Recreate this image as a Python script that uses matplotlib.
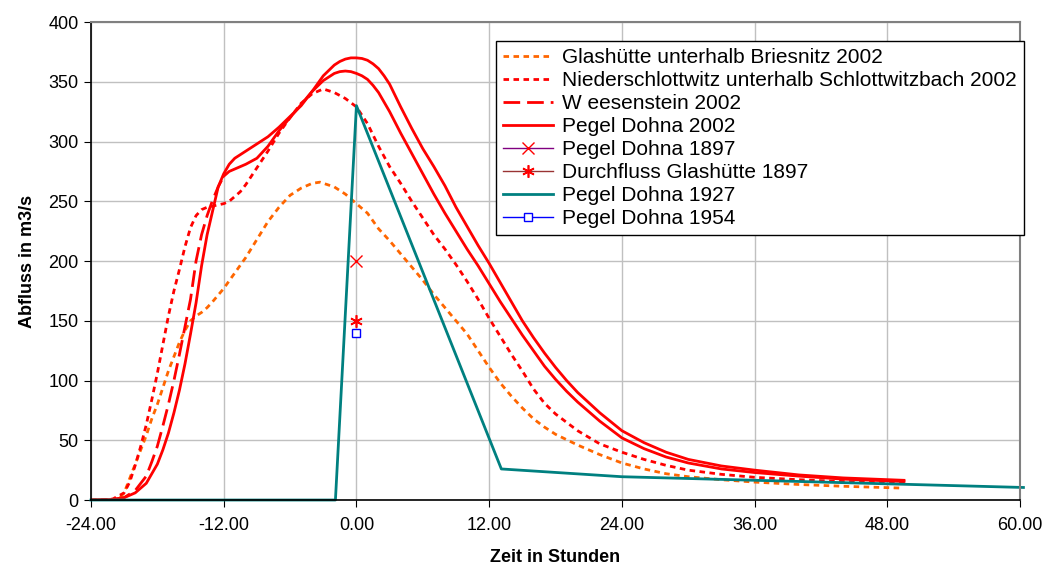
import matplotlib
matplotlib.use('Agg')
import matplotlib.pyplot as plt
from matplotlib.ticker import FormatStrFormatter

plt.rcParams['font.family'] = ['Liberation Sans', 'DejaVu Sans']

# Zeit in Stunden / Abfluss in m3/s

# Glashütte unterhalb Briesnitz 2002
t_glas = [-24, -22, -21.5, -21, -20.5, -20, -19.5, -19, -18.5, -18, -17.5, -17, -16.5, -16,
          -15.5, -15, -14.5, -14, -13.5, -13, -12, -11, -10, -9, -8, -7, -6, -5, -4, -3.3,
          -2, -1, 0, 1, 2, 3, 4, 5, 6, 7, 8, 9, 10, 11, 12, 13, 14, 15, 16, 17, 18, 20,
          22, 24, 26, 28, 30, 33, 36, 40, 44, 49.3]
q_glas = [0, 0, 1, 6, 18, 30, 42, 54, 68, 80, 94, 108, 120, 132,
          142, 150, 154, 157, 161, 166, 177, 190, 203, 218, 233, 245, 255, 261, 265, 266,
          262, 256, 248, 240, 227, 217, 206, 195, 184, 172, 161, 150, 139, 125, 111, 98, 87, 77, 68, 61, 55, 46,
          38, 31, 26, 22, 19.5, 17, 15, 13, 11.5, 10]

# Niederschlottwitz unterhalb Schlottwitzbach 2002
t_nied = [-24, -22.5, -22, -21, -20.5, -20, -19.5, -19, -18.5, -18, -17.5, -17, -16.5, -16,
          -15.5, -15, -14.5, -14, -13.5, -13, -12.5, -12, -11.5, -11, -10.5, -10, -9.5, -9,
          -8, -7, -6, -5, -4, -3, -2, -1, 0, 1, 2, 3, 4, 5, 6, 7, 8, 9, 10, 11, 12, 13, 14,
          15, 16, 17, 18, 19, 20, 22, 24, 26, 28, 30, 33, 36, 40, 44, 49.5]
q_nied = [0, 0, 1, 6, 15, 29, 45, 63, 84, 106, 130, 154, 175, 193,
          212, 228, 238, 243, 245, 246, 247, 248, 250, 254, 258, 264, 271, 278,
          292, 307, 320, 332, 340, 344, 341, 336, 329, 315, 296, 279, 265, 250, 236, 222, 210, 197, 183, 168, 152, 137, 122,
          108, 93, 81, 72, 65, 58, 47, 40, 34, 29, 25, 21.5, 19, 17, 15.5, 14.5]

# Weesenstein 2002 (Anstieg gestrichelt, Rest durchgezogen)
t_wees_rise = [-24, -22, -21, -20, -19, -18.5, -18, -17.5, -17, -16.5, -16, -15.5, -15,
               -14.5, -14, -13.5, -13, -12.5, -12]
q_wees_rise = [0, 0.5, 2, 8, 20, 32, 45, 62, 80, 100, 122, 145, 168,
               200, 222, 238, 251, 262, 271]
t_wees = [-12, -11.5, -11, -10, -9, -8, -7, -6, -5, -4, -3, -2, -1.5, -1, -0.5, 0, 0.5, 1, 1.5, 2,
          2.5, 3, 4, 5, 6, 7, 8, 9, 10, 11, 12, 13, 14, 15, 16, 17, 18, 19, 20, 22, 24, 26, 28, 30,
          33, 36, 40, 44, 49.5]
q_wees = [271, 275, 277, 281, 286, 296, 309, 320, 331, 342, 351, 357, 358.5, 359, 358.5, 357, 355, 352, 347, 341,
          333, 325, 307, 290, 273, 256, 240, 225, 210, 196, 181, 166, 152, 138, 125, 112, 101, 91, 82, 66, 52, 43, 36, 31,
          26, 23, 20, 17.5, 15.5]

# Pegel Dohna 2002
t_dohna = [-24, -22, -21, -20, -19, -18, -17.5, -17, -16.5, -16, -15.5, -15, -14.5, -14, -13.5,
           -13, -12.5, -12, -11.5, -11, -10, -9, -8, -7, -6, -5, -4, -3, -2, -1.5, -1, -0.5, 0,
           0.5, 1, 1.5, 2, 2.5, 3, 4, 5, 6, 7, 8, 9, 10, 11, 12, 13, 14, 15, 16, 17, 18, 19, 20,
           22, 24, 26, 28, 30, 33, 36, 40, 44, 49.5]
q_dohna = [0, 0.5, 2, 6, 14, 30, 42, 56, 73, 92, 114, 139, 165, 196, 222,
           242, 262, 273, 281, 286, 292, 298, 304, 312, 321, 330, 342, 355, 364, 367, 369, 370, 370,
           369.5, 368, 365, 361, 355, 348, 329, 311, 294, 279, 263, 245, 229, 213, 198, 182, 166, 150, 136, 123, 111, 100, 90,
           73, 58, 48, 40, 34, 28.5, 25, 21, 18.5, 16.5]

# Einzelwerte
t_1897 = [0]
q_dohna_1897 = [200]
q_glas_1897 = [150]
t_1954 = [0]
q_dohna_1954 = [140]

# Pegel Dohna 1927
t_1927 = [-24, -1.9, 0, 13.1, 24, 60.3]
q_1927 = [0, 0, 330, 26, 19.5, 10.5]

fig = plt.figure(figsize=(10.42, 5.65), dpi=100)
ax = fig.add_axes([0.0873, 0.115, 0.8917, 0.846])

orange = '#FF6600'
red = '#FF0000'
teal = '#008080'

ax.plot(t_glas, q_glas, color=orange, lw=2, ls=(0, (2, 1.6)), label='Glashütte unterhalb Briesnitz 2002')
ax.plot(t_nied, q_nied, color=red, lw=2, ls=(0, (2, 1.6)), label='Niederschlottwitz unterhalb Schlottwitzbach 2002')
ax.plot(t_wees_rise, q_wees_rise, color=red, lw=2, ls=(0, (6, 2.5)), label='W eesenstein 2002')
ax.plot(t_wees, q_wees, color=red, lw=2)
ax.plot(t_dohna, q_dohna, color=red, lw=2, label='Pegel Dohna 2002')
ax.plot(t_1897, q_dohna_1897, color='#800080', lw=1, marker='x', ms=8, mec=red, mew=1,
        label='Pegel Dohna 1897')
ax.plot(t_1897, q_glas_1897, color='#993333', lw=1, marker=(6, 2, 0), ms=9, mec=red, mew=1.2,
        label='Durchfluss Glashütte 1897')
ax.plot(t_1927, q_1927, color=teal, lw=2, clip_on=False, label='Pegel Dohna 1927')
ax.plot(t_1954, q_dohna_1954, color='#0000FF', lw=1, marker='s', ms=6, mfc='white', mec='#0000FF', mew=1,
        label='Pegel Dohna 1954')

ax.set_xlim(-24, 60)
ax.set_ylim(0, 400)
ax.set_xticks(range(-24, 61, 12))
ax.set_yticks(range(0, 401, 50))
ax.xaxis.set_major_formatter(FormatStrFormatter('%.2f'))
ax.grid(True, color='#C0C0C0', lw=1)
ax.set_axisbelow(True)
ax.tick_params(axis='both', direction='out', length=5, labelsize=13, pad=4)
ax.tick_params(axis='x', pad=7)
for s in ['top', 'right']:
    ax.spines[s].set_color('#808080')
    ax.spines[s].set_linewidth(1.5)
for s in ['left', 'bottom']:
    ax.spines[s].set_color('black')
    ax.spines[s].set_linewidth(1.2)

ax.set_xlabel('Zeit in Stunden', fontsize=13, fontweight='bold', labelpad=11)
ax.set_ylabel('Abfluss in m3/s', fontsize=13, fontweight='bold', labelpad=9)

leg = ax.legend(loc='upper left', bbox_to_anchor=(496 / 1042, 1 - 41 / 565), bbox_transform=fig.transFigure,
                fontsize=15, frameon=True, fancybox=False, framealpha=1, edgecolor='black',
                handlelength=2.4, handletextpad=0.4, labelspacing=0.19, borderpad=0.35, borderaxespad=0)
leg.get_frame().set_linewidth(1)

fig.savefig('out.png', dpi=100)
